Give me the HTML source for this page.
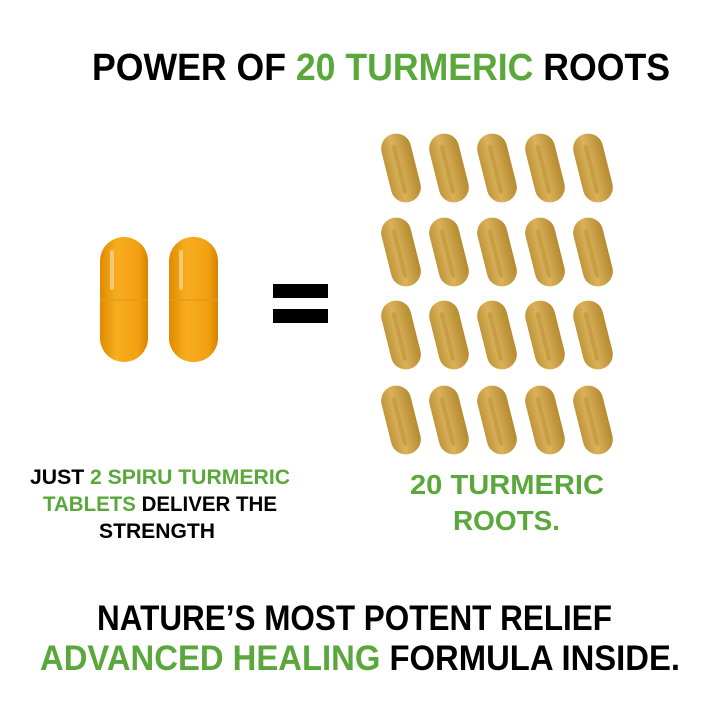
<!DOCTYPE html>
<html><head><meta charset="utf-8"><style>
html,body{margin:0;padding:0;background:#fff;width:720px;height:720px;overflow:hidden}
svg{display:block}
text{font-family:"Liberation Sans",sans-serif;font-weight:bold}
</style></head><body>
<svg width="720" height="720" viewBox="0 0 720 720">
<defs>
<linearGradient id="og" x1="0" x2="1" y1="0" y2="0">
<stop offset="0" stop-color="#e08a00"/><stop offset="0.35" stop-color="#f7ad1f"/><stop offset="0.8" stop-color="#f2a010"/><stop offset="1" stop-color="#d98200"/>
</linearGradient>
<linearGradient id="yg" x1="0" x2="1" y1="0" y2="0">
<stop offset="0" stop-color="#c0953a"/><stop offset="0.4" stop-color="#dab25a"/><stop offset="1" stop-color="#b58a30"/>
</linearGradient>
<g id="cap">
<rect x="-15" y="-35" width="30" height="70" rx="15" fill="url(#yg)"/>
<rect x="-4" y="-24" width="4" height="50" rx="2" fill="#a0721a" opacity="0.3"/>
</g>
</defs>
<text x="92" y="80" font-size="38" textLength="578" lengthAdjust="spacingAndGlyphs" fill="#000">POWER OF <tspan fill="#5aa83c">20 TURMERIC</tspan> ROOTS</text>

<g>
<rect x="100" y="237" width="48" height="125" rx="24" fill="url(#og)"/>
<rect x="100" y="299" width="48" height="2" fill="#e39a18" opacity="0.7"/>
<rect x="110" y="250" width="4" height="40" rx="2" fill="#fff" opacity="0.4"/>
<rect x="169" y="237" width="49" height="125" rx="24" fill="url(#og)"/>
<rect x="169" y="299" width="49" height="2" fill="#e39a18" opacity="0.7"/>
<rect x="179" y="250" width="4" height="40" rx="2" fill="#fff" opacity="0.4"/>
</g>
<rect x="273" y="284" width="55" height="14" fill="#000"/>
<rect x="273" y="309" width="55" height="14" fill="#000"/>

<g>
<use href="#cap" transform="translate(401,168) rotate(-14)"/>
<use href="#cap" transform="translate(449,168) rotate(-14)"/>
<use href="#cap" transform="translate(497,168) rotate(-14)"/>
<use href="#cap" transform="translate(545,168) rotate(-14)"/>
<use href="#cap" transform="translate(593,168) rotate(-14)"/>
<use href="#cap" transform="translate(401,252) rotate(-14)"/>
<use href="#cap" transform="translate(449,252) rotate(-14)"/>
<use href="#cap" transform="translate(497,252) rotate(-14)"/>
<use href="#cap" transform="translate(545,252) rotate(-14)"/>
<use href="#cap" transform="translate(593,252) rotate(-14)"/>
<use href="#cap" transform="translate(401,335) rotate(-14)"/>
<use href="#cap" transform="translate(449,335) rotate(-14)"/>
<use href="#cap" transform="translate(497,335) rotate(-14)"/>
<use href="#cap" transform="translate(545,335) rotate(-14)"/>
<use href="#cap" transform="translate(593,335) rotate(-14)"/>
<use href="#cap" transform="translate(401,420) rotate(-14)"/>
<use href="#cap" transform="translate(449,420) rotate(-14)"/>
<use href="#cap" transform="translate(497,420) rotate(-14)"/>
<use href="#cap" transform="translate(545,420) rotate(-14)"/>
<use href="#cap" transform="translate(593,420) rotate(-14)"/>
</g>

<text x="30" y="484" font-size="21" textLength="260" lengthAdjust="spacingAndGlyphs" fill="#000">JUST <tspan fill="#5aa83c">2 SPIRU TURMERIC</tspan></text>
<text x="43" y="511" font-size="21" textLength="234" lengthAdjust="spacingAndGlyphs" fill="#000"><tspan fill="#5aa83c">TABLETS</tspan> DELIVER THE</text>
<text x="99" y="538" font-size="21" textLength="116" lengthAdjust="spacingAndGlyphs" fill="#000">STRENGTH</text>

<text x="410" y="494" font-size="28" textLength="194" lengthAdjust="spacingAndGlyphs" fill="#5aa83c">20 TURMERIC</text>
<text x="453" y="530" font-size="28" textLength="107" lengthAdjust="spacingAndGlyphs" fill="#5aa83c">ROOTS.</text>

<text x="97" y="630" font-size="35" textLength="515" lengthAdjust="spacingAndGlyphs" fill="#000">NATURE’S MOST POTENT RELIEF</text>
<text x="40" y="670" font-size="35" textLength="640" lengthAdjust="spacingAndGlyphs" fill="#000"><tspan fill="#5aa83c">ADVANCED HEALING</tspan> FORMULA INSIDE.</text>
</svg>
</body></html>
